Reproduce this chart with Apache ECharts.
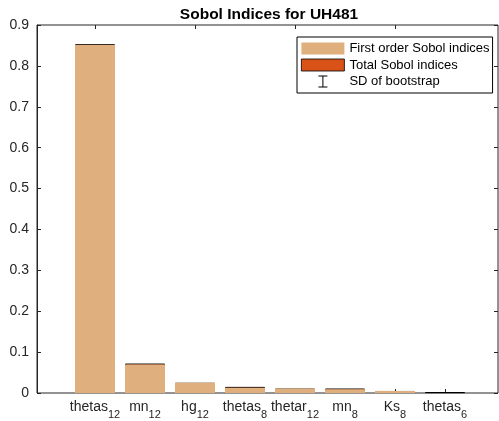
<!DOCTYPE html>
<html>
<head>
<meta charset="utf-8">
<script src="https://cdn.jsdelivr.net/npm/echarts@6/dist/echarts.min.js"></script>
<style>
  html, body { margin: 0; padding: 0; background: #fff; }
  #main { width: 499px; height: 421px; }
</style>
</head>
<body>
<div id="main"></div>
<script type="text/javascript">
    // parameter names and their subscripts
    var names = ['thetas', 'mn', 'hg', 'thetas', 'thetar', 'mn', 'Ks', 'thetas'];
    var subs = ['12', '12', '12', '8', '12', '8', '8', '6'];
    // sobol indices
    var firstOrder = [0.851, 0.070, 0.025, 0.013, 0.011, 0.009, 0.005, 0.000];
    var totalOrder = [0.853, 0.072, 0.025, 0.015, 0.011, 0.011, 0.005, 0.002];
    // bootstrap SD is too small to see at this scale
    var sdBoot = [0, 0, 0, 0, 0, 0, 0, 0];
    var yTicks = [0, 0.1, 0.2, 0.3, 0.4, 0.5, 0.6, 0.7, 0.8, 0.9];

    var cats = names.map(function (n, i) { return n + '_' + subs[i]; });
    var sdData = totalOrder.map(function (v, i) { return [i, v, sdBoot[i]]; });

    var axisColor = '#262626';
    var font = 'Liberation Sans, Arial, sans-serif';

    var myChart = echarts.init(document.getElementById('main'));
    var option = {
        animation: false,
        backgroundColor: '#fff',
        title: {
            text: 'Sobol Indices for UH481',
            left: 264,
            textAlign: 'center',
            top: 2,
            textStyle: { fontFamily: font, fontSize: 15.5, fontWeight: 'bold', color: '#000' }
        },
        legend: {
            orient: 'vertical',
            left: 297,
            top: 37,
            padding: [5, 3, 5, 4],
            itemWidth: 43,
            itemHeight: 12,
            itemGap: 3.5,
            borderColor: '#000',
            borderWidth: 1,
            backgroundColor: '#fff',
            textStyle: { fontFamily: font, fontSize: 13, color: '#000' },
            data: [
                { name: 'First order Sobol indices', icon: 'rect', itemStyle: { borderWidth: 0 } },
                { name: 'Total Sobol indices', icon: 'rect', itemStyle: { borderColor: '#000', borderWidth: 0.8 } },
                { name: 'SD of bootstrap', icon: 'path://M0,0H9V1H5V11H9V12H0V11H4V1H0Z' }
            ]
        },
        grid: [
            { left: 37, right: 1, top: 25, bottom: 28, show: true, borderColor: axisColor, borderWidth: 1, backgroundColor: '#fff' },
            { left: 70, width: 400, top: 25, bottom: 28 }
        ],
        xAxis: [
            { gridIndex: 0, type: 'value', min: 0, max: 1, show: false },
            {
                gridIndex: 1,
                type: 'category',
                data: cats,
                position: 'bottom',
                axisLine: { show: false },
                axisTick: { show: true, inside: true, length: 4, alignWithLabel: true, lineStyle: { color: axisColor } },
                axisLabel: {
                    margin: 7,
                    interval: 0,
                    formatter: function (v, i) { return '{m|' + names[i] + '}{s|' + subs[i] + '}'; },
                    rich: {
                        m: { fontFamily: font, fontSize: 14, color: axisColor, lineHeight: 16, verticalAlign: 'top' },
                        s: { fontFamily: font, fontSize: 11, color: axisColor, lineHeight: 12, verticalAlign: 'top', padding: [9, 0, 0, 0] }
                    }
                }
            },
            {
                gridIndex: 1,
                type: 'category',
                data: cats,
                position: 'top',
                axisLine: { show: false },
                axisTick: { show: true, inside: true, length: 4, alignWithLabel: true, lineStyle: { color: axisColor } },
                axisLabel: { show: false }
            }
        ],
        yAxis: [
            {
                gridIndex: 0,
                type: 'value',
                min: yTicks[0],
                max: yTicks[yTicks.length - 1],
                interval: 0.1,
                position: 'left',
                axisLine: { show: true, lineStyle: { color: axisColor } },
                axisTick: { show: true, inside: true, length: 4, lineStyle: { color: axisColor } },
                axisLabel: { margin: 8, fontFamily: font, fontSize: 14, color: axisColor },
                splitLine: { show: false }
            },
            {
                gridIndex: 0,
                type: 'value',
                min: yTicks[0],
                max: yTicks[yTicks.length - 1],
                interval: 0.1,
                position: 'right',
                axisLine: { show: false },
                axisTick: { show: true, inside: true, length: 4, lineStyle: { color: axisColor } },
                axisLabel: { show: false },
                splitLine: { show: false }
            },
            { gridIndex: 1, type: 'value', min: 0, max: 0.9, show: false }
        ],
        series: [
            {
                name: 'Total Sobol indices',
                type: 'bar',
                xAxisIndex: 1,
                yAxisIndex: 2,
                barWidth: 40,
                itemStyle: { color: '#D95319', borderColor: '#000', borderWidth: 1 },
                data: totalOrder
            },
            {
                name: 'First order Sobol indices',
                type: 'bar',
                xAxisIndex: 1,
                yAxisIndex: 2,
                barWidth: 40,
                barGap: '-100%',
                itemStyle: { color: '#DFB07E' },
                data: firstOrder
            },
            {
                name: 'SD of bootstrap',
                type: 'custom',
                xAxisIndex: 1,
                yAxisIndex: 2,
                z: 5,
                itemStyle: { color: '#000' },
                renderItem: function (params, api) {
                    var x = api.value(0), v = api.value(1), sd = api.value(2);
                    if (!sd) return null;
                    var hi = api.coord([x, v + sd]);
                    var lo = api.coord([x, v - sd]);
                    var st = { stroke: '#000', lineWidth: 1 };
                    return {
                        type: 'group',
                        children: [
                            { type: 'line', shape: { x1: hi[0], y1: hi[1], x2: lo[0], y2: lo[1] }, style: st },
                            { type: 'line', shape: { x1: hi[0] - 4, y1: hi[1], x2: hi[0] + 4, y2: hi[1] }, style: st },
                            { type: 'line', shape: { x1: lo[0] - 4, y1: lo[1], x2: lo[0] + 4, y2: lo[1] }, style: st }
                        ]
                    };
                },
                data: sdData
            }
        ]
    };
    myChart.setOption(option);
</script>
</body>
</html>
